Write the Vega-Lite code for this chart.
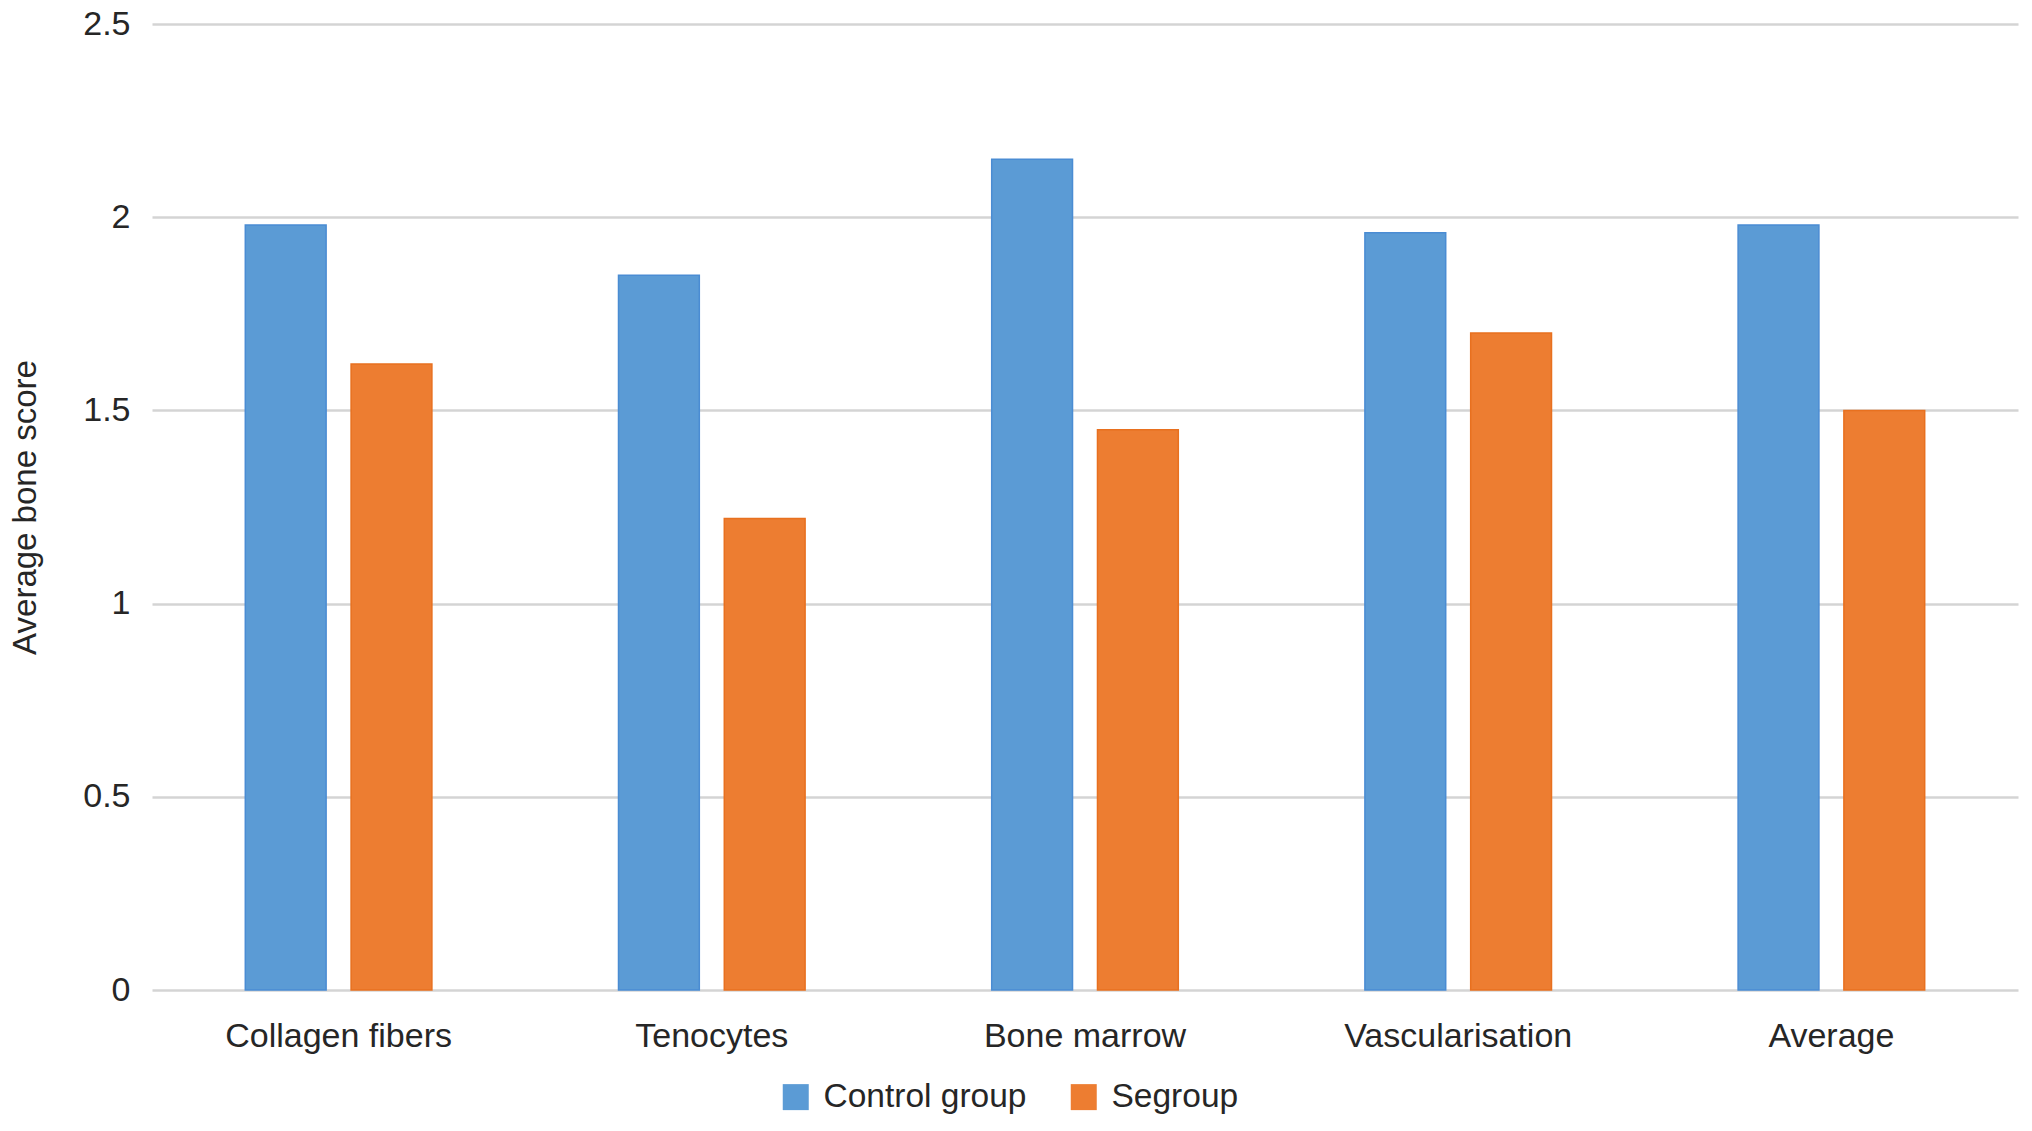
{
  "$schema": "https://vega.github.io/schema/vega-lite/v6.json",
  "width": 1866,
  "height": 966,
  "autosize": {"type": "none"},
  "padding": {"left": 152, "top": 24, "right": 14, "bottom": 141},
  "background": "white",
  "config": {
    "font": "Liberation Sans",
    "view": {"stroke": null}
  },
  "data": {
    "values": [
      {"category": "Collagen fibers", "group": "Control group", "score": 1.98},
      {"category": "Collagen fibers", "group": "Segroup", "score": 1.62},
      {"category": "Tenocytes", "group": "Control group", "score": 1.85},
      {"category": "Tenocytes", "group": "Segroup", "score": 1.22},
      {"category": "Bone marrow", "group": "Control group", "score": 2.15},
      {"category": "Bone marrow", "group": "Segroup", "score": 1.45},
      {"category": "Vascularisation", "group": "Control group", "score": 1.96},
      {"category": "Vascularisation", "group": "Segroup", "score": 1.7},
      {"category": "Average", "group": "Control group", "score": 1.98},
      {"category": "Average", "group": "Segroup", "score": 1.5}
    ]
  },
  "mark": {"type": "bar", "strokeWidth": 1.5},
  "encoding": {
    "x": {
      "field": "category",
      "type": "nominal",
      "sort": null,
      "scale": {"paddingInner": 0.5, "paddingOuter": 0.25},
      "axis": {
        "title": null,
        "labelAngle": 0,
        "ticks": false,
        "tickSize": 0,
        "domain": false,
        "labelPadding": 46,
        "labelLimit": 0,
        "labelFontSize": 34,
        "labelColor": "#262626",
        "labelBaseline": "middle"
      }
    },
    "xOffset": {
      "field": "group",
      "type": "nominal",
      "sort": ["Control group", "Segroup"],
      "scale": {"paddingInner": 0.236, "paddingOuter": 0}
    },
    "y": {
      "field": "score",
      "type": "quantitative",
      "scale": {"domain": [0, 2.5]},
      "axis": {
        "values": [0, 0.5, 1, 1.5, 2, 2.5],
        "format": "~g",
        "title": "Average bone score",
        "titleFontSize": 33,
        "titleFontWeight": "normal",
        "titleColor": "#262626",
        "titlePadding": 40,
        "grid": true,
        "gridColor": "#d4d4d4",
        "gridWidth": 2.5,
        "domain": false,
        "ticks": false,
        "tickSize": 0,
        "labelPadding": 22,
        "labelFontSize": 34,
        "labelColor": "#262626"
      }
    },
    "color": {
      "field": "group",
      "type": "nominal",
      "sort": ["Control group", "Segroup"],
      "scale": {"domain": ["Control group", "Segroup"], "range": ["#5B9BD5", "#ED7D31"]},
      "legend": {
        "title": null,
        "orient": "none",
        "legendX": 627,
        "legendY": 1056,
        "direction": "horizontal",
        "symbolType": "square",
        "symbolSize": 676,
        "symbolStrokeWidth": 0,
        "labelFontSize": 33.5,
        "labelLimit": 0,
        "labelColor": "#262626",
        "labelOffset": 11,
        "columnPadding": 40
      }
    },
    "stroke": {
      "field": "group",
      "type": "nominal",
      "scale": {"domain": ["Control group", "Segroup"], "range": ["#4A8CD3", "#E8701F"]},
      "legend": null
    }
  }
}
